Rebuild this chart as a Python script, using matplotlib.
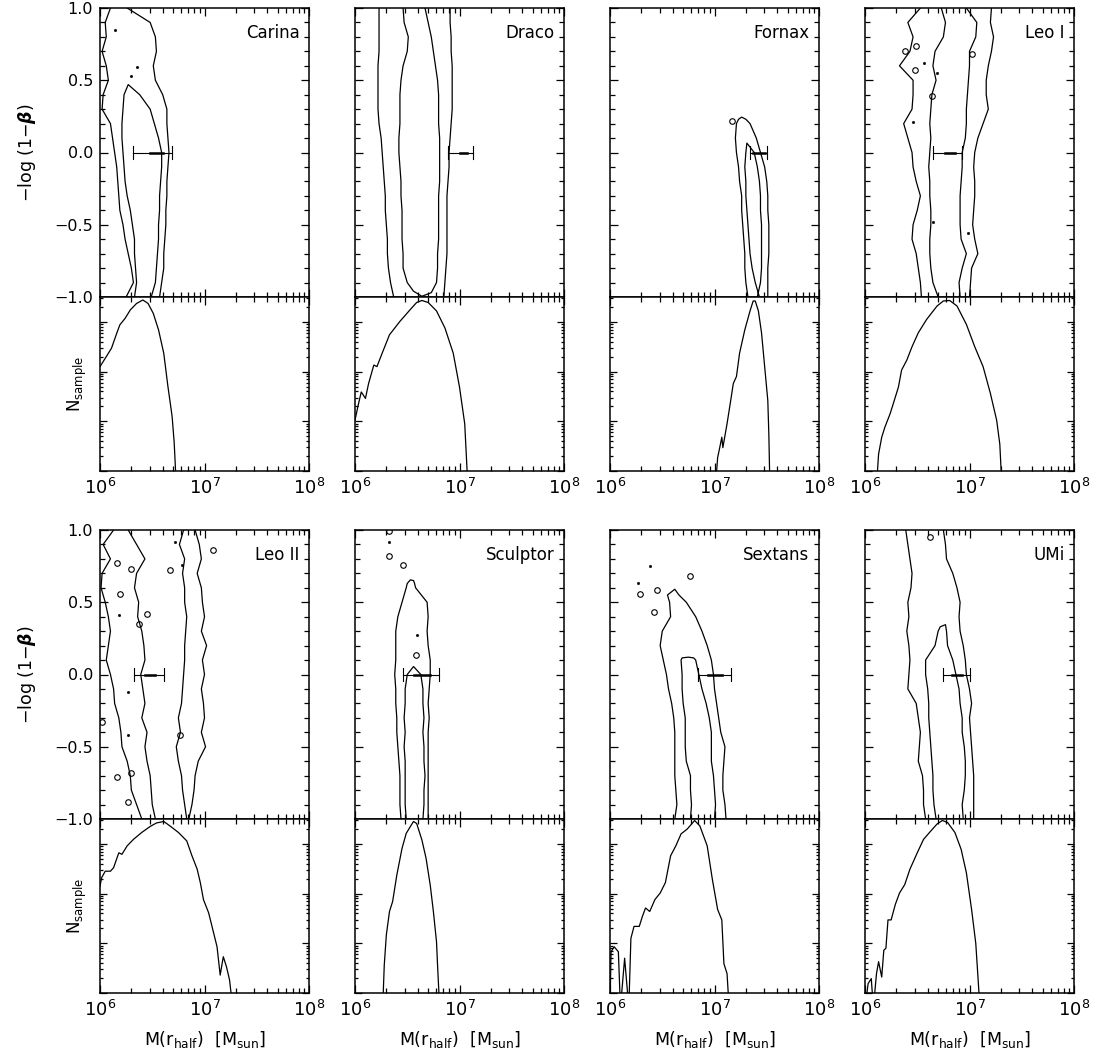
import numpy as np
import matplotlib
matplotlib.use('Agg')
import matplotlib.pyplot as plt
from matplotlib.ticker import MultipleLocator, NullFormatter, FuncFormatter, FixedLocator

nan = np.nan

# ---------------- data ----------------
BETA = [1.0, 0.9, 0.8, 0.7, 0.6, 0.5, 0.4, 0.3, 0.2, 0.1, 0.0,
        -0.1, -0.2, -0.3, -0.4, -0.5, -0.6, -0.7, -0.8, -0.9, -1.0]

NAMES = ['Carina', 'Draco', 'Fornax', 'Leo I', 'Leo II', 'Sculptor', 'Sextans', 'UMi']

# contour boundaries: log10 M(r_half) at each BETA value (outer L/R, inner L/R)
CARINA_OL = [6.10, 6.05, 6.06, 6.02, 6.06, 6.08, 6.03, 6.02, 6.10, 6.12, 6.14, 6.16, 6.17, 6.18, 6.19, 6.22, 6.24, 6.27, 6.30, 6.32, 6.25]
CARINA_OR = [6.26, 6.48, 6.53, 6.54, 6.51, 6.53, 6.60, 6.64, 6.64, 6.65, 6.66, 6.65, 6.64, 6.64, 6.63, 6.63, 6.62, 6.61, 6.61, 6.59, 6.57]
CARINA_IL = [nan]*6 + [6.23, 6.22, 6.21, 6.21, 6.22, 6.23, 6.24, 6.26, 6.29, 6.31, 6.33, 6.33, 6.34, 6.35, 6.33]
CARINA_IR = [nan]*6 + [6.38, 6.48, 6.52, 6.56, 6.59, 6.59, 6.58, 6.57, 6.57, 6.56, 6.56, 6.55, 6.54, 6.53, 6.49]
CARINA_ITOP = [(0.47, 6.27)]

DRACO_OL = [6.23, 6.23, 6.23, 6.23, 6.22, 6.22, 6.22, 6.22, 6.23, 6.25, 6.26, 6.27, 6.28, 6.29, 6.29, 6.30, 6.31, 6.31, 6.32, 6.34, 6.37]
DRACO_OR = [6.91, 6.91, 6.92, 6.92, 6.93, 6.93, 6.93, 6.93, 6.92, 6.91, 6.90, 6.90, 6.89, 6.88, 6.88, 6.88, 6.88, 6.88, 6.87, 6.86, 6.85]
DRACO_IL = [6.46, 6.47, 6.51, 6.50, 6.46, 6.44, 6.43, 6.43, 6.43, 6.42, 6.42, 6.43, 6.44, 6.44, 6.45, 6.45, 6.45, 6.46, 6.46, 6.50, nan]
DRACO_IR = [6.67, 6.70, 6.73, 6.75, 6.77, 6.79, 6.80, 6.80, 6.80, 6.81, 6.81, 6.81, 6.81, 6.80, 6.80, 6.80, 6.80, 6.79, 6.79, 6.78, nan]
DRACO_IBOT = [(-0.96, 6.56), (-0.995, 6.64), (-0.97, 6.73)]

FORNAX_OL = [nan]*8 + [7.21, 7.20, 7.21, 7.23, 7.24, 7.26, 7.26, 7.27, 7.28, 7.29, 7.29, 7.30, 7.32]
FORNAX_OR = [nan]*8 + [7.34, 7.40, 7.44, 7.48, 7.50, 7.51, 7.51, 7.52, 7.52, 7.52, 7.51, 7.51, 7.51]
FORNAX_OTOP = [(0.23, 7.23), (0.245, 7.26), (0.23, 7.30)]
FORNAX_IL = [nan]*10 + [7.30, 7.29, 7.30, 7.30, 7.31, 7.32, 7.33, 7.34, 7.36, 7.39, 7.43]
FORNAX_IR = [nan]*10 + [7.38, 7.41, 7.43, 7.44, 7.44, 7.45, 7.45, 7.45, 7.45, 7.44, 7.41]
FORNAX_ITOP = [(0.065, 7.31)]

LEOI_OL = [6.53, 6.41, 6.46, 6.43, 6.33, 6.46, 6.46, 6.45, 6.37, 6.41, 6.45, 6.46, 6.49, 6.53, 6.50, 6.46, 6.45, 6.49, 6.51, 6.53, 6.54]
LEOI_OR = [7.21, 7.20, 7.23, 7.21, 7.18, 7.16, 7.16, 7.18, 7.13, 7.08, 7.05, 7.04, 7.05, 7.05, 7.04, 7.03, 7.05, 7.08, 7.02, 7.01, 7.00]
LEOI_IL = [6.73, 6.77, 6.75, 6.67, 6.65, 6.68, 6.64, 6.63, 6.62, 6.63, 6.62, 6.61, 6.62, 6.62, 6.63, 6.63, 6.62, 6.62, 6.63, 6.65, 6.70]
LEOI_IR = [6.97, 7.07, 7.06, 7.00, 7.00, 6.99, 6.98, 6.97, 6.97, 6.96, 6.93, 6.93, 6.92, 6.91, 6.91, 6.91, 6.92, 6.97, 6.93, 6.90, 6.91]

LEOII_OL = [6.13, 6.03, 6.10, 6.02, 6.01, 6.05, 6.08, 6.10, 6.08, 6.06, 6.10, 6.13, 6.14, 6.18, 6.20, 6.21, 6.26, 6.29, 6.30, 6.35, 6.40]
LEOII_OR = [6.91, 6.95, 6.97, 6.93, 6.97, 6.98, 7.00, 6.97, 7.02, 6.98, 7.00, 6.97, 6.99, 7.00, 6.97, 7.01, 6.94, 6.91, 6.90, 6.88, 6.85]
LEOII_IL = [6.27, 6.35, 6.43, 6.35, 6.33, 6.37, 6.36, 6.40, 6.42, 6.43, 6.39, 6.41, 6.43, 6.40, 6.45, 6.43, 6.45, 6.48, 6.49, 6.50, 6.53]
LEOII_IR = [6.80, 6.76, 6.81, 6.79, 6.81, 6.81, 6.83, 6.82, 6.81, 6.81, 6.80, 6.79, 6.78, 6.75, 6.77, 6.73, 6.75, 6.78, 6.79, 6.81, 6.83]

SCULPTOR_OL = [nan]*4 + [6.49, 6.45, 6.41, 6.39, 6.39, 6.39, 6.38, 6.39, 6.39, 6.40, 6.40, 6.41, 6.42, 6.43, 6.43, 6.43, 6.44]
SCULPTOR_OR = [nan]*4 + [6.58, 6.69, 6.70, 6.69, 6.70, 6.72, 6.72, 6.71, 6.70, 6.71, 6.70, 6.70, 6.70, 6.70, 6.70, 6.70, 6.70]
SCULPTOR_OTOP = [(0.63, 6.50), (0.655, 6.53), (0.65, 6.56), (0.63, 6.57)]
SCULPTOR_IL = [nan]*10 + [6.50, 6.48, 6.48, 6.47, 6.48, 6.47, 6.48, 6.48, 6.48, 6.48, 6.49]
SCULPTOR_IR = [nan]*10 + [6.63, 6.65, 6.65, 6.66, 6.65, 6.66, 6.66, 6.67, 6.66, 6.66, 6.65]
SCULPTOR_ITOP = [(0.055, 6.56)]

SEXTANS_OL = [nan]*5 + [6.57, 6.58, 6.50, 6.48, 6.51, 6.54, 6.56, 6.59, 6.61, 6.62, 6.62, 6.62, 6.62, 6.63, 6.64, 6.62]
SEXTANS_OR = [nan]*5 + [6.73, 6.82, 6.88, 6.93, 6.97, 6.99, 7.00, 7.02, 7.04, 7.06, 7.10, 7.09, 7.08, 7.08, 7.10, 7.11]
SEXTANS_OTOP = [(0.55, 6.55), (0.59, 6.62), (0.55, 6.66)]
SEXTANS_IL = [nan]*9 + [6.68, 6.69, 6.69, 6.70, 6.72, 6.72, 6.72, 6.73, 6.77, 6.77, 6.78, 6.77]
SEXTANS_IR = [nan]*9 + [6.82, 6.85, 6.88, 6.92, 6.95, 6.97, 6.97, 6.97, 6.99, 7.00, 7.01, 7.00]
SEXTANS_ITOP = [(0.115, 6.69), (0.12, 6.75), (0.115, 6.80)]

UMI_OL = [6.39, 6.41, 6.43, 6.45, 6.44, 6.41, 6.42, 6.40, 6.42, 6.43, 6.42, 6.41, 6.49, 6.51, 6.53, 6.52, 6.51, 6.55, 6.56, 6.56, 6.58]
UMI_OR = [6.75, 6.77, 6.78, 6.84, 6.88, 6.91, 6.90, 6.91, 6.94, 6.96, 6.97, 7.00, 7.02, 7.00, 7.01, 7.02, 7.03, 7.04, 7.04, 7.04, 7.04]
UMI_IL = [nan]*7 + [6.70, 6.67, 6.58, 6.58, 6.60, 6.61, 6.61, 6.62, 6.63, 6.64, 6.65, 6.65, 6.66, 6.68]
UMI_IR = [nan]*7 + [6.78, 6.79, 6.84, 6.87, 6.90, 6.91, 6.93, 6.93, 6.95, 6.96, 6.96, 6.95, 6.93, 6.94]
UMI_ITOP = [(0.33, 6.72), (0.345, 6.77)]

# small closed contour islands (beta, log M) and tiny dots
CARINA_DOTS = [(0.85, 6.14), (0.59, 6.35), (0.53, 6.30)]
FORNAX_LOOPS = [(0.22, 7.17)]
LEOI_LOOPS = [(0.74, 6.49), (0.70, 6.38), (0.57, 6.48), (0.39, 6.64), (0.68, 7.02)]
LEOI_DOTS = [(0.62, 6.56), (0.55, 6.69), (0.21, 6.46), (-0.48, 6.65), (-0.56, 6.99)]
LEOII_LOOPS = [(0.77, 6.16), (0.73, 6.30), (0.56, 6.19), (0.42, 6.45), (0.86, 7.08), (0.72, 6.67),
               (-0.71, 6.16), (-0.68, 6.30), (-0.88, 6.27), (-0.42, 6.77), (-0.33, 6.02), (0.35, 6.37)]
LEOII_DOTS = [(0.92, 6.72), (0.76, 6.78), (0.41, 6.18), (-0.12, 6.27), (-0.42, 6.27)]
SCULPTOR_LOOPS = [(0.99, 6.33), (0.82, 6.33), (0.76, 6.46), (0.135, 6.58)]
SCULPTOR_DOTS = [(0.92, 6.33), (0.27, 6.59)]
SEXTANS_LOOPS = [(0.56, 6.29), (0.585, 6.45), (0.43, 6.42), (0.68, 6.77)]
SEXTANS_DOTS = [(0.75, 6.38), (0.63, 6.27)]
UMI_LOOPS = [(0.95, 6.62)]

# error bars at beta = 0 : log M (outer lo, outer hi, inner lo, inner hi)
ERR_LO = [6.32, 6.89, 7.34, 6.65, 6.33, 6.46, 6.84, 6.75]
ERR_HI = [6.69, 7.13, 7.50, 6.93, 6.61, 6.80, 7.16, 7.00]
ERR_IN_LO = [6.48, 7.00, 7.37, 6.77, 6.43, 6.56, 6.94, 6.83]
ERR_IN_HI = [6.60, 7.07, 7.48, 6.86, 6.53, 6.72, 7.07, 6.93]

# histograms: log10 M and log10 N_sample
CARINA_HM = [6.00, 6.06, 6.11, 6.16, 6.19, 6.24, 6.29, 6.35, 6.41, 6.46, 6.51, 6.56, 6.61, 6.65, 6.69, 6.71, 6.73]
CARINA_HN = [2.10, 2.30, 2.47, 2.77, 2.94, 3.07, 3.24, 3.37, 3.44, 3.37, 3.17, 2.84, 2.37, 1.70, 1.10, 0.57, -0.3]
DRACO_HM = [6.00, 6.03, 6.06, 6.10, 6.13, 6.18, 6.21, 6.26, 6.33, 6.43, 6.53, 6.59, 6.64, 6.70, 6.78, 6.86, 6.94, 7.00, 7.05, 7.08]
DRACO_HN = [1.02, 1.32, 1.59, 1.46, 1.76, 2.13, 2.10, 2.37, 2.74, 3.01, 3.25, 3.39, 3.43, 3.39, 3.22, 2.88, 2.37, 1.69, 0.95, -0.3]
FORNAX_HM = [7.01, 7.03, 7.05, 7.07, 7.08, 7.12, 7.15, 7.18, 7.21, 7.24, 7.29, 7.34, 7.37, 7.39, 7.42, 7.45, 7.48, 7.51, 7.52, 7.53]
FORNAX_HN = [-0.3, 0.27, 0.47, 0.68, 0.47, 0.95, 1.35, 1.76, 1.90, 2.37, 2.84, 3.22, 3.42, 3.42, 3.22, 2.78, 2.10, 1.42, 0.74, -0.3]
LEOI_HM = [6.11, 6.13, 6.16, 6.19, 6.24, 6.27, 6.32, 6.35, 6.40, 6.45, 6.51, 6.59, 6.69, 6.75, 6.81, 6.88, 6.97, 7.05, 7.13, 7.20, 7.26, 7.29, 7.31]
LEOI_HN = [-0.3, 0.34, 0.68, 0.88, 1.15, 1.35, 1.69, 2.03, 2.23, 2.50, 2.78, 3.05, 3.32, 3.42, 3.43, 3.32, 2.95, 2.50, 2.10, 1.56, 1.02, 0.54, -0.3]
LEOII_HM = [6.00, 6.016, 6.05, 6.10, 6.13, 6.18, 6.21, 6.26, 6.32, 6.40, 6.48, 6.54, 6.61, 6.67, 6.75, 6.83, 6.88, 6.93, 6.96, 6.99, 7.04, 7.08, 7.12, 7.15, 7.18, 7.21, 7.24, 7.27]
LEOII_HN = [2.15, 2.32, 2.45, 2.45, 2.52, 2.82, 2.79, 2.96, 3.09, 3.23, 3.35, 3.42, 3.45, 3.36, 3.23, 3.06, 2.76, 2.49, 2.22, 1.88, 1.61, 1.27, 0.93, 0.36, 0.73, 0.53, 0.26, -0.3]
SCULPTOR_HM = [6.265, 6.28, 6.30, 6.33, 6.36, 6.40, 6.45, 6.49, 6.53, 6.56, 6.59, 6.64, 6.68, 6.72, 6.75, 6.78, 6.79, 6.81]
SCULPTOR_HN = [-0.3, 0.56, 1.17, 1.64, 1.84, 2.37, 2.91, 3.21, 3.35, 3.45, 3.41, 3.08, 2.71, 2.17, 1.64, 1.03, 0.56, -0.3]
SEXTANS_HM = [6.00, 6.01, 6.04, 6.08, 6.10, 6.14, 6.18, 6.20, 6.23, 6.28, 6.31, 6.34, 6.38, 6.43, 6.48, 6.53, 6.58, 6.63, 6.68, 6.74, 6.81, 6.86, 6.93, 6.98, 7.03, 7.07, 7.09, 7.12, 7.14]
SEXTANS_HN = [-0.3, 0.83, 0.93, 0.83, -0.3, 0.70, -0.3, 1.10, 1.34, 1.34, 1.54, 1.71, 1.64, 1.88, 2.01, 2.22, 2.76, 2.96, 3.20, 3.30, 3.47, 3.36, 2.96, 2.28, 1.68, 1.47, 0.59, 0.39, -0.3]
UMI_HM = [6.00, 6.03, 6.06, 6.08, 6.11, 6.13, 6.16, 6.18, 6.20, 6.22, 6.25, 6.29, 6.33, 6.38, 6.43, 6.50, 6.56, 6.63, 6.69, 6.74, 6.79, 6.86, 6.92, 6.97, 7.02, 7.06, 7.10]
UMI_HN = [-0.3, 0.19, 0.29, -0.3, 0.39, 0.63, 0.32, 0.86, 0.90, 1.47, 1.47, 1.78, 2.01, 2.18, 2.49, 2.82, 3.09, 3.26, 3.40, 3.47, 3.43, 3.23, 2.89, 2.42, 1.68, 1.00, -0.3]

X_TICKS = [1e6, 1e7, 1e8]
Y_TICKS = [-1.0, -0.5, 0.0, 0.5, 1.0]

PANELS = [
    dict(ol=CARINA_OL, orr=CARINA_OR, il=CARINA_IL, ir=CARINA_IR, itop=CARINA_ITOP,
         dots=CARINA_DOTS, hm=CARINA_HM, hn=CARINA_HN),
    dict(ol=DRACO_OL, orr=DRACO_OR, il=DRACO_IL, ir=DRACO_IR, ibot=DRACO_IBOT,
         hm=DRACO_HM, hn=DRACO_HN),
    dict(ol=FORNAX_OL, orr=FORNAX_OR, otop=FORNAX_OTOP, il=FORNAX_IL, ir=FORNAX_IR, itop=FORNAX_ITOP,
         loops=FORNAX_LOOPS, hm=FORNAX_HM, hn=FORNAX_HN),
    dict(ol=LEOI_OL, orr=LEOI_OR, il=LEOI_IL, ir=LEOI_IR, loops=LEOI_LOOPS, dots=LEOI_DOTS,
         hm=LEOI_HM, hn=LEOI_HN),
    dict(ol=LEOII_OL, orr=LEOII_OR, il=LEOII_IL, ir=LEOII_IR, loops=LEOII_LOOPS, dots=LEOII_DOTS,
         hm=LEOII_HM, hn=LEOII_HN),
    dict(ol=SCULPTOR_OL, orr=SCULPTOR_OR, otop=SCULPTOR_OTOP, il=SCULPTOR_IL, ir=SCULPTOR_IR,
         itop=SCULPTOR_ITOP, loops=SCULPTOR_LOOPS, dots=SCULPTOR_DOTS, hm=SCULPTOR_HM, hn=SCULPTOR_HN),
    dict(ol=SEXTANS_OL, orr=SEXTANS_OR, otop=SEXTANS_OTOP, il=SEXTANS_IL, ir=SEXTANS_IR,
         itop=SEXTANS_ITOP, loops=SEXTANS_LOOPS, dots=SEXTANS_DOTS, hm=SEXTANS_HM, hn=SEXTANS_HN),
    dict(ol=UMI_OL, orr=UMI_OR, il=UMI_IL, ir=UMI_IR, itop=UMI_ITOP, loops=UMI_LOOPS,
         hm=UMI_HM, hn=UMI_HN),
]

# ---------------- figure ----------------
plt.rcParams['font.family'] = ['DejaVu Sans']
plt.rcParams['mathtext.fontset'] = 'dejavusans'

W, H = 1093, 1057
fig = plt.figure(figsize=(W / 100, H / 100), dpi=100)

COL_X = [100, 355, 610, 865]
PW = 209
ROW_TOP = [(8, 297), (530, 819)]
ROW_BOT = [(297, 471), (819, 993)]
LW = 0.9

X_MINOR = [k * 10.0 ** d for d in (6, 7) for k in range(2, 10)]
Y_LOG_MAJOR = [1, 10, 100, 1000]
Y_LOG_MINOR = [k * 10.0 ** d for d in (0, 1, 2, 3) for k in range(2, 10)]


def fr(x0, y0, y1):
    return [x0 / W, 1 - y1 / H, PW / W, (y1 - y0) / H]


def style(ax):
    ax.set_xscale('log')
    ax.set_xlim(1e6, 1e8)
    ax.xaxis.set_major_locator(FixedLocator(X_TICKS))
    ax.xaxis.set_minor_locator(FixedLocator(X_MINOR))
    ax.xaxis.set_minor_formatter(NullFormatter())
    for s in ax.spines.values():
        s.set_linewidth(1.1)
    ax.tick_params(which='both', direction='in', top=True, right=True, width=0.9,
                   colors='black')
    ax.tick_params(which='major', length=6)
    ax.tick_params(which='minor', length=3.5)


def draw_contour(ax, left, right, top=None, bottom=None):
    b = np.array(BETA)
    L = np.array(left, dtype=float)
    R = np.array(right, dtype=float)
    ml, mr = ~np.isnan(L), ~np.isnan(R)
    kw = dict(color='black', lw=LW, solid_joinstyle='round')
    if top is not None:
        xs = list(L[ml][::-1]) + [p[1] for p in top] + list(R[mr])
        ys = list(b[ml][::-1]) + [p[0] for p in top] + list(b[mr])
        ax.plot(10 ** np.array(xs), ys, **kw)
    elif bottom is not None:
        xs = list(L[ml]) + [p[1] for p in bottom] + list(R[mr][::-1])
        ys = list(b[ml]) + [p[0] for p in bottom] + list(b[mr][::-1])
        ax.plot(10 ** np.array(xs), ys, **kw)
    else:
        ax.plot(10 ** L[ml], b[ml], **kw)
        ax.plot(10 ** R[mr], b[mr], **kw)


minus_fmt = FuncFormatter(lambda v, p: ('%.1f' % v).replace('-', '\u2212'))

for i, (name, P) in enumerate(zip(NAMES, PANELS)):
    row, col = divmod(i, 4)
    x0 = COL_X[col]
    axt = fig.add_axes(fr(x0, *ROW_TOP[row]))
    axb = fig.add_axes(fr(x0, *ROW_BOT[row]))

    # ---- top: contours
    style(axt)
    axt.set_ylim(-1.0, 1.0)
    axt.yaxis.set_major_locator(FixedLocator(Y_TICKS))
    axt.yaxis.set_minor_locator(MultipleLocator(0.1))
    axt.tick_params(labelbottom=False)
    if col == 0:
        axt.yaxis.set_major_formatter(minus_fmt)
        axt.tick_params(axis='y', labelsize=11.5, pad=5)
    else:
        axt.tick_params(labelleft=False)

    draw_contour(axt, P['ol'], P['orr'], top=P.get('otop'))
    draw_contour(axt, P['il'], P['ir'], top=P.get('itop'), bottom=P.get('ibot'))
    for (bb, lm) in P.get('loops', []):
        axt.plot(10 ** lm, bb, 'o', ms=4, mfc='none', mec='black', mew=0.8)
    for (bb, lm) in P.get('dots', []):
        axt.plot(10 ** lm, bb, 'o', ms=1.6, mfc='black', mec='black', mew=0.5)

    # error bar
    lo, hi = 10 ** ERR_LO[i], 10 ** ERR_HI[i]
    axt.plot([lo, hi], [0, 0], color='black', lw=0.8)
    axt.plot([lo, lo], [-0.045, 0.045], color='black', lw=0.8)
    axt.plot([hi, hi], [-0.045, 0.045], color='black', lw=0.8)
    axt.plot([10 ** ERR_IN_LO[i], 10 ** ERR_IN_HI[i]], [0, 0], color='black', lw=1.8)

    axt.text(0.955, 0.913, name, transform=axt.transAxes, ha='right', va='center',
             fontsize=12)

    # ---- bottom: histogram
    style(axb)
    axb.set_yscale('log')
    axb.set_ylim(1, 10 ** 3.5)
    axb.yaxis.set_major_locator(FixedLocator(Y_LOG_MAJOR))
    axb.yaxis.set_minor_locator(FixedLocator(Y_LOG_MINOR))
    axb.yaxis.set_major_formatter(NullFormatter())
    axb.yaxis.set_minor_formatter(NullFormatter())
    axb.tick_params(axis='y', which='major', length=5)
    axb.tick_params(axis='y', which='minor', length=2.5)
    axb.tick_params(axis='x', labelsize=13, pad=5)
    axb.plot(10 ** np.array(P['hm']), 10 ** np.array(P['hn']), color='black', lw=LW)

    if col == 0:
        yc_top = 1 - (ROW_TOP[row][0] + ROW_TOP[row][1]) / 2 / H
        yc_bot = 1 - (ROW_BOT[row][0] + ROW_BOT[row][1]) / 2 / H
        fig.text(27 / W, yc_top, '\u2212log (1\u2212' + r'$\boldsymbol{\beta}$' + ')',
                 rotation=90, ha='center', va='center', fontsize=12.5)
        fig.text(77 / W, yc_bot, r'N$_{\rm sample}$', rotation=90, ha='center',
                 va='center', fontsize=12)
    if row == 1:
        fig.text((x0 + PW / 2) / W, 1 - 1040 / H, r'M(r$_{\rm half}$)  [M$_{\rm sun}$]',
                 ha='center', va='center', fontsize=12.5)

fig.savefig('out.png', dpi=100)
